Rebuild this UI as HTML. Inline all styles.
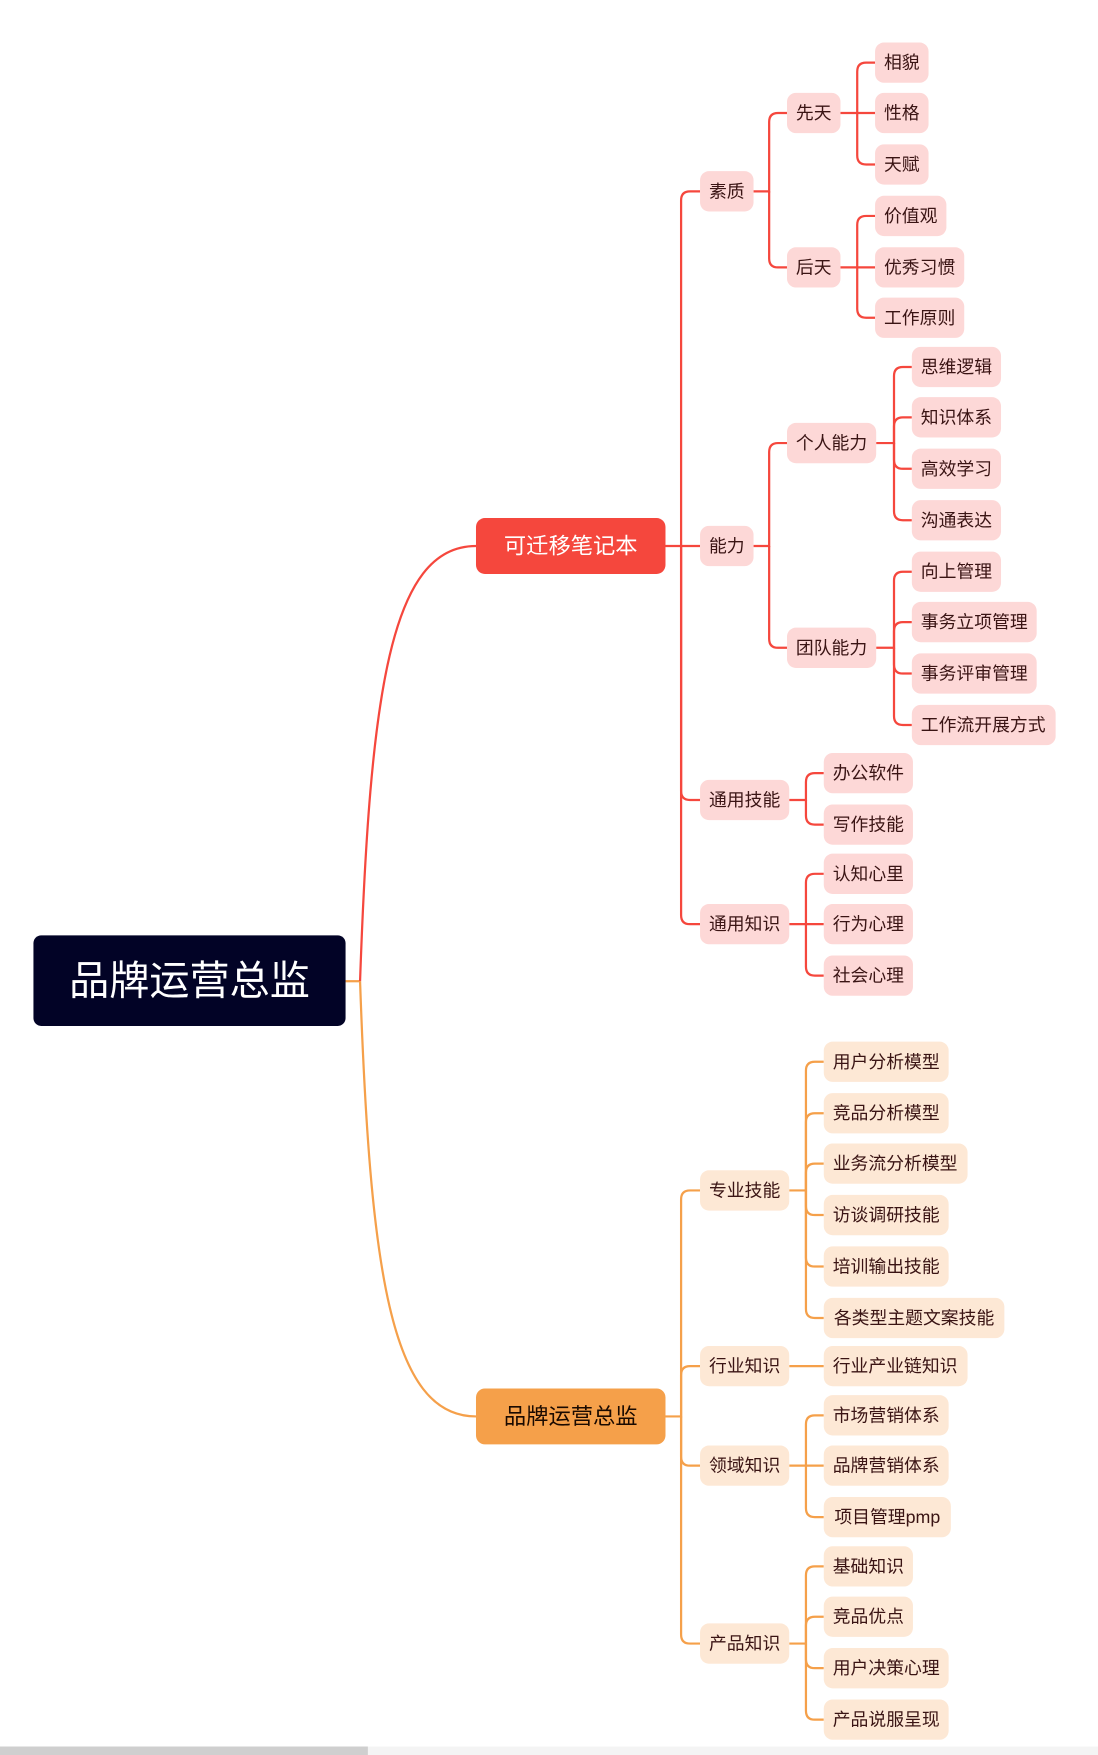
<!DOCTYPE html>
<html><head><meta charset="utf-8"><style>
html,body{margin:0;padding:0;background:#fff;width:1098px;height:1755px;overflow:hidden}
svg{display:block}
text{font-family:"Liberation Sans","Noto Sans CJK SC",sans-serif;dominant-baseline:central;text-anchor:middle}
.r rect{fill:#fdd8d7}.o rect{fill:#fde8d5}
.r rect,.o rect{height:36px;transform:translateY(-1px)}
.r text,.o text{font-size:16px;fill:#3a1414}
.lr{stroke:#f5473d;stroke-width:2;fill:none}
.lo{stroke:#f5a04a;stroke-width:2;fill:none}
</style></head><body>
<svg width="1098" height="1755" viewBox="0 0 985 1568.6" preserveAspectRatio="none" xmlns="http://www.w3.org/2000/svg">
<path class="lo" d="M310 877 H323"/>
<path class="lr" d="M323 877 C332 620 350 488 427 488"/>
<path class="lo" d="M323 877 C332 1134 350 1266 427 1266"/>
<rect x="30" y="836" width="280" height="81" rx="7" fill="#020326"/>
<text x="170" y="877" font-size="36" fill="#fff">品牌运营总监</text>
<rect x="427" y="463" width="170" height="50" rx="8" fill="#f5473d"/>
<text x="512" y="488" font-size="20" fill="#fff">可迁移笔记本</text>
<rect x="427" y="1241" width="170" height="50" rx="8" fill="#f5a04a"/>
<text x="512" y="1266" font-size="20" fill="#1a0a00">品牌运营总监</text>

<g class="lr">
<path d="M597 488 H628"/>
<path d="M611 488 V179 Q611 171 619 171 H628"/>
<path d="M611 488 V707 Q611 715 619 715 H628"/>
<path d="M611 488 V818 Q611 826 619 826 H628"/>
<path d="M676 171 H690 V109 Q690 101 698 101 H706"/>
<path d="M690 171 V231 Q690 239 698 239 H706"/>
<path d="M754 101 H785"/>
<path d="M769 101 V64 Q769 56 777 56 H785"/>
<path d="M769 101 V139 Q769 147 777 147 H785"/>
<path d="M754 239 H785"/>
<path d="M769 239 V201 Q769 193 777 193 H785"/>
<path d="M769 239 V276 Q769 284 777 284 H785"/>
<path d="M676 488 H690 V404 Q690 396 698 396 H706"/>
<path d="M690 488 V571 Q690 579 698 579 H706"/>
<path d="M786 396 H802 V336 Q802 328 810 328 H818"/>
<path d="M802 396 V381 Q802 373 810 373 H818"/>
<path d="M802 396 V411 Q802 419 810 419 H818"/>
<path d="M802 396 V457 Q802 465 810 465 H818"/>
<path d="M786 579 H802 V519 Q802 511 810 511 H818"/>
<path d="M802 579 V564 Q802 556 810 556 H818"/>
<path d="M802 579 V594 Q802 602 810 602 H818"/>
<path d="M802 579 V640 Q802 648 810 648 H818"/>
<path d="M708 715 H723 V699 Q723 691 731 691 H739"/>
<path d="M723 715 V729 Q723 737 731 737 H739"/>
<path d="M708 826 H739"/>
<path d="M723 826 V789 Q723 781 731 781 H739"/>
<path d="M723 826 V864 Q723 872 731 872 H739"/>
</g>
<g class="lo">
<path d="M597 1266 H611 V1072 Q611 1064 619 1064 H628"/>
<path d="M611 1266 V1229 Q611 1221 619 1221 H628"/>
<path d="M611 1266 V1302 Q611 1310 619 1310 H628"/>
<path d="M611 1266 V1461 Q611 1469 619 1469 H628"/>
<path d="M708 1064 H723 V957 Q723 949 731 949 H739"/>
<path d="M723 1064 V1003 Q723 995 731 995 H739"/>
<path d="M723 1064 V1048 Q723 1040 731 1040 H739"/>
<path d="M723 1064 V1078 Q723 1086 731 1086 H739"/>
<path d="M723 1064 V1124 Q723 1132 731 1132 H739"/>
<path d="M723 1064 V1170 Q723 1178 731 1178 H739"/>
<path d="M708 1221 H739"/>
<path d="M708 1310 H739"/>
<path d="M723 1310 V1273 Q723 1265 731 1265 H739"/>
<path d="M723 1310 V1348 Q723 1356 731 1356 H739"/>
<path d="M708 1469 H723 V1408 Q723 1400 731 1400 H739"/>
<path d="M723 1469 V1453 Q723 1445 731 1445 H739"/>
<path d="M723 1469 V1483 Q723 1491 731 1491 H739"/>
<path d="M723 1469 V1529 Q723 1537 731 1537 H739"/>
</g>

<g class="r">
<rect x="628" y="154" width="48" height="34" rx="8"/><text x="652" y="171">素质</text>
<rect x="628" y="471" width="48" height="34" rx="8"/><text x="652" y="488">能力</text>
<rect x="628" y="698" width="80" height="34" rx="8"/><text x="668" y="715">通用技能</text>
<rect x="628" y="809" width="80" height="34" rx="8"/><text x="668" y="826">通用知识</text>
<rect x="706" y="84" width="48" height="34" rx="8"/><text x="730" y="101">先天</text>
<rect x="706" y="222" width="48" height="34" rx="8"/><text x="730" y="239">后天</text>
<rect x="706" y="379" width="80" height="34" rx="8"/><text x="746" y="396">个人能力</text>
<rect x="706" y="562" width="80" height="34" rx="8"/><text x="746" y="579">团队能力</text>
<rect x="785" y="39" width="48" height="34" rx="8"/><text x="809" y="56">相貌</text>
<rect x="785" y="84" width="48" height="34" rx="8"/><text x="809" y="101">性格</text>
<rect x="785" y="130" width="48" height="34" rx="8"/><text x="809" y="147">天赋</text>
<rect x="785" y="176" width="64" height="34" rx="8"/><text x="817" y="193">价值观</text>
<rect x="785" y="222" width="80" height="34" rx="8"/><text x="825" y="239">优秀习惯</text>
<rect x="785" y="267" width="80" height="34" rx="8"/><text x="825" y="284">工作原则</text>
<rect x="818" y="311" width="80" height="34" rx="8"/><text x="858" y="328">思维逻辑</text>
<rect x="818" y="356" width="80" height="34" rx="8"/><text x="858" y="373">知识体系</text>
<rect x="818" y="402" width="80" height="34" rx="8"/><text x="858" y="419">高效学习</text>
<rect x="818" y="448" width="80" height="34" rx="8"/><text x="858" y="465">沟通表达</text>
<rect x="818" y="494" width="80" height="34" rx="8"/><text x="858" y="511">向上管理</text>
<rect x="818" y="539" width="112" height="34" rx="8"/><text x="874" y="556">事务立项管理</text>
<rect x="818" y="585" width="112" height="34" rx="8"/><text x="874" y="602">事务评审管理</text>
<rect x="818" y="631" width="129" height="34" rx="8"/><text x="882" y="648">工作流开展方式</text>
<rect x="739" y="674" width="80" height="34" rx="8"/><text x="779" y="691">办公软件</text>
<rect x="739" y="720" width="80" height="34" rx="8"/><text x="779" y="737">写作技能</text>
<rect x="739" y="764" width="80" height="34" rx="8"/><text x="779" y="781">认知心里</text>
<rect x="739" y="809" width="80" height="34" rx="8"/><text x="779" y="826">行为心理</text>
<rect x="739" y="855" width="80" height="34" rx="8"/><text x="779" y="872">社会心理</text>
</g>

<g class="o">
<rect x="628" y="1047" width="80" height="34" rx="8"/><text x="668" y="1064">专业技能</text>
<rect x="628" y="1204" width="80" height="34" rx="8"/><text x="668" y="1221">行业知识</text>
<rect x="628" y="1293" width="80" height="34" rx="8"/><text x="668" y="1310">领域知识</text>
<rect x="628" y="1452" width="80" height="34" rx="8"/><text x="668" y="1469">产品知识</text>
<rect x="739" y="932" width="112" height="34" rx="8"/><text x="795" y="949">用户分析模型</text>
<rect x="739" y="978" width="112" height="34" rx="8"/><text x="795" y="995">竞品分析模型</text>
<rect x="739" y="1023" width="129" height="34" rx="8"/><text x="803" y="1040">业务流分析模型</text>
<rect x="739" y="1069" width="112" height="34" rx="8"/><text x="795" y="1086">访谈调研技能</text>
<rect x="739" y="1115" width="112" height="34" rx="8"/><text x="795" y="1132">培训输出技能</text>
<rect x="739" y="1161" width="162" height="34" rx="8"/><text x="820" y="1178">各类型主题文案技能</text>
<rect x="739" y="1204" width="129" height="34" rx="8"/><text x="803" y="1221">行业产业链知识</text>
<rect x="739" y="1248" width="112" height="34" rx="8"/><text x="795" y="1265">市场营销体系</text>
<rect x="739" y="1293" width="112" height="34" rx="8"/><text x="795" y="1310">品牌营销体系</text>
<rect x="739" y="1339" width="114" height="34" rx="8"/><text x="796" y="1356">项目管理pmp</text>
<rect x="739" y="1383" width="80" height="34" rx="8"/><text x="779" y="1400">基础知识</text>
<rect x="739" y="1428" width="80" height="34" rx="8"/><text x="779" y="1445">竞品优点</text>
<rect x="739" y="1474" width="112" height="34" rx="8"/><text x="795" y="1491">用户决策心理</text>
<rect x="739" y="1520" width="112" height="34" rx="8"/><text x="795" y="1537">产品说服呈现</text>
</g>
<rect x="0" y="1561" width="985" height="8" fill="#f4f4f4"/>
<rect x="0" y="1561" width="330" height="8" fill="#cfcfcf"/>
</svg>
</body></html>
